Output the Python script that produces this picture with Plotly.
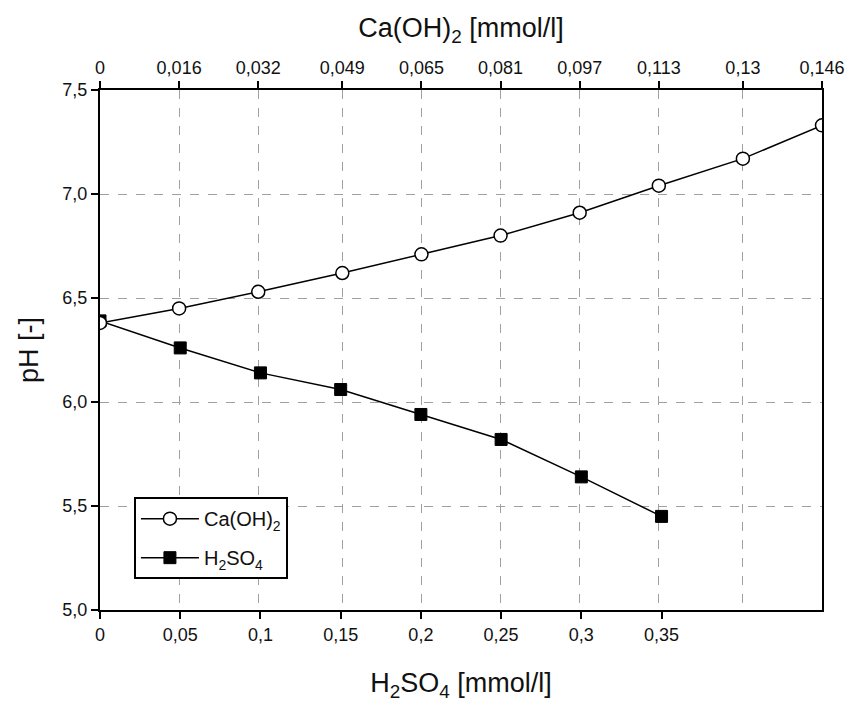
import plotly.graph_objects as go

# H2SO4 dose (bottom axis) and resulting pH
h2so4_dose = [0, 0.05, 0.1, 0.15, 0.2, 0.25, 0.3, 0.35]
h2so4_ph = [6.39, 6.26, 6.14, 6.06, 5.94, 5.82, 5.64, 5.45]

# Ca(OH)2 dose (top axis) and resulting pH
caoh2_dose = [0, 0.016, 0.032, 0.049, 0.065, 0.081, 0.097, 0.113, 0.13, 0.146]
caoh2_ph = [6.38, 6.45, 6.53, 6.62, 6.71, 6.80, 6.91, 7.04, 7.17, 7.33]

bottom_ticks = [0, 0.05, 0.1, 0.15, 0.2, 0.25, 0.3, 0.35]
bottom_labels = ["0", "0,05", "0,1", "0,15", "0,2", "0,25", "0,3", "0,35"]
top_labels = ["0", "0,016", "0,032", "0,049", "0,065", "0,081", "0,097", "0,113", "0,13", "0,146"]
y_ticks = [5.0, 5.5, 6.0, 6.5, 7.0, 7.5]

FONT = "Liberation Sans, Arial, sans-serif"
TXT = "#111111"
GRID = "#a0a0a0"
TICK_FONT = dict(family=FONT, size=18, color=TXT)
TITLE_FONT = dict(family=FONT, size=27, color=TXT)

fig = go.Figure()

fig.add_trace(go.Scatter(
    x=caoh2_dose, y=caoh2_ph, xaxis="x2", yaxis="y",
    mode="lines+markers", name="Ca(OH)<sub>2</sub>", legendgroup="ca",
    line=dict(color="black", width=1.5),
    marker=dict(symbol="circle", size=13, color="white",
                line=dict(color="black", width=1.5)),
))
fig.add_trace(go.Scatter(
    x=h2so4_dose, y=h2so4_ph, xaxis="x", yaxis="y",
    mode="lines+markers", name="H<sub>2</sub>SO<sub>4</sub>", legendgroup="h2so4",
    line=dict(color="black", width=1.5),
    marker=dict(symbol="square", size=12, color="black",
                line=dict(color="black", width=1)),
))

fig.update_layout(
    width=851, height=704,
    margin=dict(l=100, r=29, t=90, b=94, autoexpand=False),
    paper_bgcolor="white", plot_bgcolor="white",
    separators=", ",
    font=dict(family=FONT, size=18, color=TXT),
    showlegend=True,
    legend=dict(
        x=0.047, y=0.217, xanchor="left", yanchor="top",
        bgcolor="white", bordercolor="black", borderwidth=2,
        font=dict(family=FONT, size=20, color=TXT),
        tracegroupgap=10, traceorder="grouped", itemwidth=58,
        entrywidth=150, entrywidthmode="pixels",
    ),
    xaxis=dict(
        range=[0, 0.45], tickvals=bottom_ticks, ticktext=bottom_labels,
        tickfont=TICK_FONT, automargin=False,
        showgrid=False, zeroline=False,
        showline=True, linecolor="black", linewidth=2, mirror=False,
        ticks="outside", ticklen=7, tickwidth=1.5, tickcolor="black",
        title=dict(text="H<sub>2</sub>SO<sub>4</sub> [mmol/l]",
                   font=TITLE_FONT, standoff=30),
    ),
    xaxis2=dict(
        range=[0, 0.146], overlaying="x", side="top", anchor="y",
        tickvals=caoh2_dose, ticktext=top_labels, tickfont=TICK_FONT,
        automargin=False,
        showgrid=True, gridcolor=GRID, griddash="dash", gridwidth=1,
        zeroline=False,
        showline=True, linecolor="black", linewidth=2,
        ticks="outside", ticklen=7, tickwidth=1.5, tickcolor="black",
        title=dict(text="Ca(OH)<sub>2</sub> [mmol/l]",
                   font=TITLE_FONT, standoff=12),
    ),
    yaxis=dict(
        range=[5.0, 7.5], tickvals=y_ticks, tickformat=".1f", tickfont=TICK_FONT,
        automargin=False,
        showgrid=True, gridcolor=GRID, griddash="dash", gridwidth=1,
        zeroline=False,
        showline=True, linecolor="black", linewidth=2, mirror=True,
        ticks="outside", ticklen=7, tickwidth=1.5, tickcolor="black",
        title=dict(text="pH [-]", font=TITLE_FONT, standoff=16),
    ),
)

fig.write_html("out.html")
